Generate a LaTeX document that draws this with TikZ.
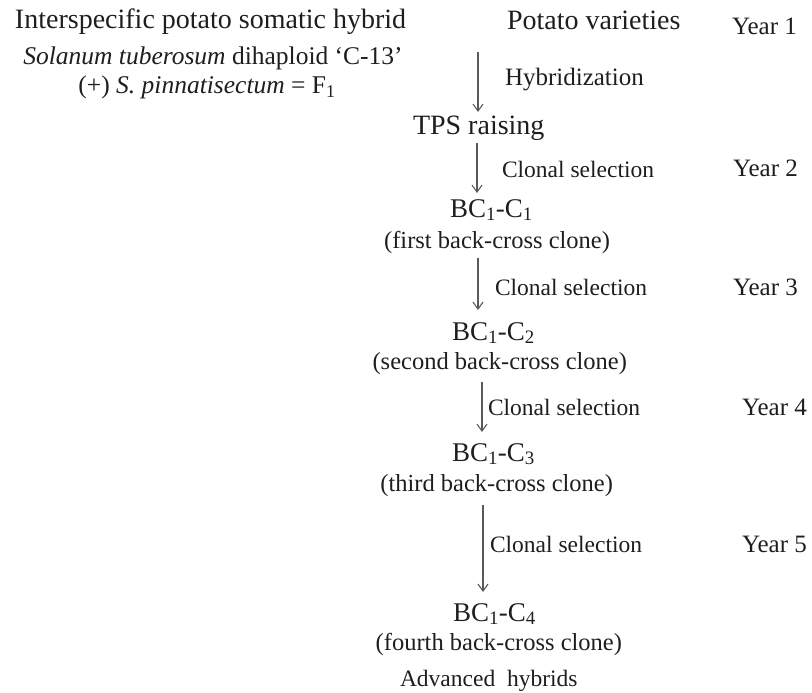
\documentclass[tikz,border=0pt]{standalone}
\usepackage{fontspec}
\setmainfont{Liberation Serif}
\usetikzlibrary{arrows.meta}
\definecolor{ink}{RGB}{30,30,30}
\definecolor{arr}{RGB}{90,90,90}
\tikzset{
  txt/.style={inner sep=0pt, outer sep=0pt, text=ink},
  big/.style={txt, font=\fontsize{28}{30}\selectfont},
  mid/.style={txt, font=\fontsize{25.5}{28}\selectfont},
  bc/.style={txt, font=\fontsize{27}{29}\selectfont},
  sm/.style={txt, font=\fontsize{24.5}{27}\selectfont},
  sel/.style={txt, font=\fontsize{23.5}{26}\selectfont},
  yr/.style={txt, font=\fontsize{25}{27}\selectfont},
  flow/.style={draw=arr, line width=1.1pt, -{Straight Barb[length=7pt,width=10pt,line width=1.1pt]}}
}
\begin{document}
\begin{tikzpicture}[x=1pt,y=-1pt]
\useasboundingbox (0,0) rectangle (812,693);
% left block
\node[big, anchor=base west] (title) at (15,29) {Interspecific potato somatic hybrid};
\node[mid, anchor=base] (sol) at (213,65) {\textit{Solanum tuberosum} dihaploid ‘C-13’};
\node[mid, anchor=base] (pin) at (207,94) {(+) \textit{S. pinnatisectum} = F\textsubscript{1}};
% main column
\node[big, anchor=base west] (pv) at (507,30) {Potato varieties};
\node[yr, anchor=base west] (y1) at (732,35) {Year 1};
\node[yr, anchor=base west] (hyb) at (505,85) {Hybridization};
\node[big, anchor=base west] (tps) at (413,135) {TPS raising};
\node[sel, anchor=base west] (cs1) at (502,177) {Clonal selection};
\node[yr, anchor=base west] (y2) at (733,176) {Year 2};
\node[bc, anchor=base west] (bc1) at (450,217) {BC\textsubscript{1}-C\textsubscript{1}};
\node[sm, anchor=base east] (c1) at (610,248) {(first back-cross clone)};
\node[sel, anchor=base west] (cs2) at (495,295) {Clonal selection};
\node[yr, anchor=base west] (y3) at (733,295) {Year 3};
\node[bc, anchor=base west] (bc2) at (452,340) {BC\textsubscript{1}-C\textsubscript{2}};
\node[sm, anchor=base east] (c2) at (627,369) {(second back-cross clone)};
\node[sel, anchor=base west] (cs3) at (488,415) {Clonal selection};
\node[yr, anchor=base west] (y4) at (742,415) {Year 4};
\node[bc, anchor=base west] (bc3) at (452,461) {BC\textsubscript{1}-C\textsubscript{3}};
\node[sm, anchor=base east] (c3) at (613,491) {(third back-cross clone)};
\node[sel, anchor=base west] (cs4) at (490,552) {Clonal selection};
\node[yr, anchor=base west] (y5) at (742,552) {Year 5};
\node[bc, anchor=base west] (bc4) at (453,621) {BC\textsubscript{1}-C\textsubscript{4}};
\node[sm, anchor=base east] (c4) at (622,650) {(fourth back-cross clone)};
\node[sel, anchor=base west] (adv) at (400,686) {Advanced\ \ hybrids};
% arrow end points
\coordinate (a1s) at (478,52);  \coordinate (a1e) at (478,112);
\coordinate (a2s) at (477,143); \coordinate (a2e) at (477,193);
\coordinate (a3s) at (478,258); \coordinate (a3e) at (478,310);
\coordinate (a4s) at (482,382); \coordinate (a4e) at (482,432);
\coordinate (a5s) at (483,505); \coordinate (a5e) at (483,592);
\draw[flow] (a1s) -- (a1e);
\draw[flow] (a2s) -- (a2e);
\draw[flow] (a3s) -- (a3e);
\draw[flow] (a4s) -- (a4e);
\draw[flow] (a5s) -- (a5e);
\end{tikzpicture}
\end{document}
